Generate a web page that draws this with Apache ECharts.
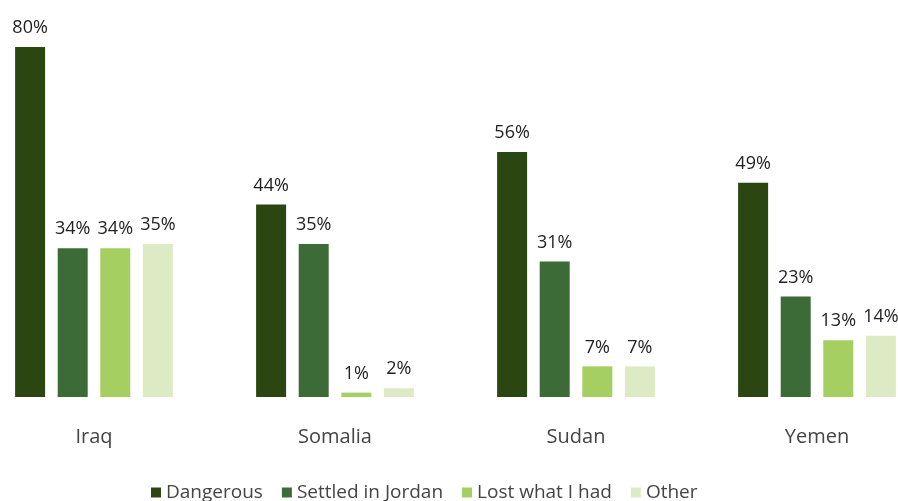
<!DOCTYPE html>
<html><head><meta charset="utf-8">
<script src="https://cdn.jsdelivr.net/npm/echarts@6/dist/echarts.min.js"></script>
<style>html,body{margin:0;padding:0;background:#fff}#c{width:898px;height:501px}</style>
</head><body><div id="c"></div>
<script>
const categories = ["Iraq", "Somalia", "Sudan", "Yemen"];
const seriesNames = ["Dangerous", "Settled in Jordan", "Lost what I had", "Other"];
const dangerous = [80, 44, 56, 49];
const settled = [34, 35, 31, 23];
const lost = [34, 1, 7, 13];
const other = [35, 2, 7, 14];
const colors = ["#2b4610", "#3d6b38", "#a6cf62", "#dcebc4"];

const values = [dangerous, settled, lost, other];
const chart = echarts.init(document.getElementById('c'));
chart.setOption({
  animation: false,
  textStyle: { fontFamily: "Open Sans" },
  legend: {
    top: 478, left: 146,
    itemWidth: 10, itemHeight: 10, itemGap: 19,
    icon: 'rect',
    textStyle: { fontSize: 19, color: '#444', fontFamily: 'Open Sans' },
    data: seriesNames
  },
  grid: { left: 94, right: 81, top: 47, bottom: 104, containLabel: false },
  xAxis: {
    type: 'category', data: categories, boundaryGap: false,
    axisLine: { show: false }, axisTick: { show: false },
    axisLabel: { fontSize: 20, color: '#444', margin: 30, fontFamily: 'Open Sans' }
  },
  yAxis: { type: 'value', min: 0, max: 80, show: false, splitLine: { show: false } },
  series: seriesNames.map((n, i) => ({
    name: n, type: 'bar', data: values[i], barWidth: 30, barGap: '42%', clip: false,
    itemStyle: { color: colors[i] },
    label: { show: true, position: 'top', formatter: '{c}%', fontSize: 18, color: '#222', distance: 10, fontFamily: 'Open Sans' }
  }))
});
</script></body></html>
